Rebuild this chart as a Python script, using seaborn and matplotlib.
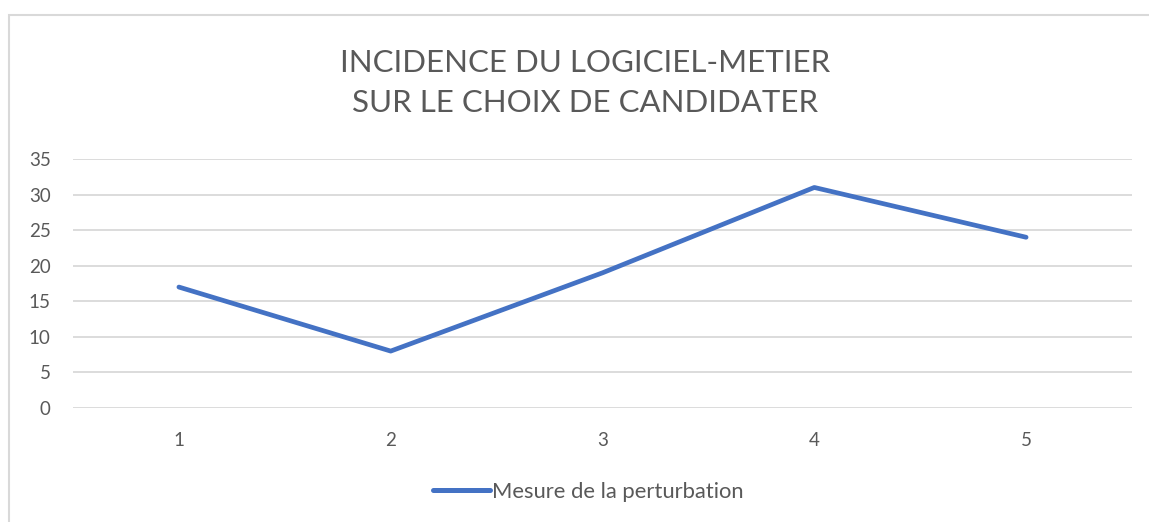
"""
Graphique linéaire : incidence du logiciel-métier sur le choix de candidater.
"""

import pandas as pd
import matplotlib.pyplot as plt
import seaborn as sns
from matplotlib.patches import Rectangle

# Données
categories = ['1', '2', '3', '4', '5']
valeurs = [17, 8, 19, 31, 24]
serie_nom = 'Mesure de la perturbation'
titre = 'INCIDENCE DU LOGICIEL-METIER\nSUR LE CHOIX DE CANDIDATER'
yticks = [0, 5, 10, 15, 20, 25, 30, 35]

texte_gris = '#595959'
grille = '#D9D9D9'
bleu = '#4472C4'

sns.set_style('white')
plt.rcParams['font.family'] = ['Lato', 'DejaVu Sans']

df = pd.DataFrame({'pos': range(len(categories)), 'valeur': valeurs, 'serie': serie_nom})

fig = plt.figure(figsize=(11.49, 5.22), dpi=100)
ax = fig.add_axes([73 / 1149, 1 - 408 / 522, (1132 - 73) / 1149, (408 - 159) / 522])

sns.lineplot(data=df, x='pos', y='valeur', hue='serie', palette=[bleu],
             linewidth=3.4, ax=ax, legend=True)
for line in ax.lines:
    line.set_solid_capstyle('round')
    line.set_solid_joinstyle('round')

ax.set_xlim(-0.5, len(categories) - 0.5)
ax.set_ylim(0, 35)
ax.set_xticks(range(len(categories)))
ax.set_xticklabels(categories)
ax.set_yticks(yticks)
ax.yaxis.grid(True, color=grille, linewidth=1.3)
ax.set_axisbelow(True)
for s in ax.spines.values():
    s.set_visible(False)
ax.tick_params(axis='both', length=0, labelsize=13.5, labelcolor=texte_gris)
ax.tick_params(axis='x', pad=17)
ax.tick_params(axis='y', pad=16)
ax.set_xlabel('')
ax.set_ylabel('')

leg = ax.legend(loc='center', bbox_to_anchor=(588 / 1149, 1 - 492 / 522),
                bbox_transform=fig.transFigure, frameon=False, fontsize=15.8,
                handlelength=2.6, handletextpad=0.1)
for t in leg.get_texts():
    t.set_color(texte_gris)
for h in leg.get_lines():
    h.set_linewidth(3.6)
    h.set_solid_capstyle('round')

fig.text(585 / 1149, 1 - 83 / 522, titre, ha='center', va='center',
         fontsize=22.5, color=texte_gris, linespacing=1.55)

# cadre du graphique
fig.patches.append(Rectangle((9 / 1149, -0.1), 1.2, 1 - 15 / 522 + 0.1,
                             transform=fig.transFigure, fill=False,
                             edgecolor=grille, linewidth=1.5))

plt.savefig('out.png', dpi=100)
plt.close()
